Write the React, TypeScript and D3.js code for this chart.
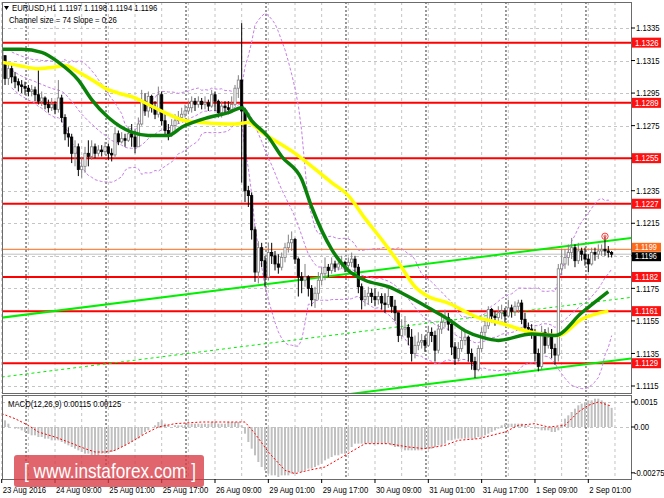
import React, { useEffect } from "react";
import * as d3 from "d3";

// EURUSD H1, 23 Aug 2016 17:00 .. 2 Sep 2016 (one value per bar)
const firstOpen = 1.1322;
const closes = [
  1.1318, 1.1304, 1.1310, 1.1305, 1.1302, 1.1300, 1.1299, 1.1298, 1.1296, 1.1297,
  1.1294, 1.1290, 1.1292, 1.1288, 1.1286, 1.1288, 1.1285, 1.1292, 1.1280, 1.1270,
  1.1268, 1.1258, 1.1262, 1.1248, 1.1250, 1.1258, 1.1256, 1.1262, 1.1258, 1.1260,
  1.1259, 1.1262, 1.1258, 1.1257, 1.1270, 1.1265, 1.1267, 1.1266, 1.1270, 1.1268,
  1.1262, 1.1276, 1.1290, 1.1284, 1.1293, 1.1286, 1.1282, 1.1294, 1.1278, 1.1272,
  1.1270, 1.1275, 1.1278, 1.1280, 1.1282, 1.1284, 1.1286, 1.1290, 1.1288, 1.1290,
  1.1288, 1.1289, 1.1287, 1.1294, 1.1290, 1.1283, 1.1287, 1.1286, 1.1285, 1.1288,
  1.1298, 1.1303, 1.1284, 1.1235, 1.1232, 1.1211, 1.1185, 1.1200, 1.1192, 1.1182,
  1.1197, 1.1195, 1.1190, 1.1188, 1.1194, 1.1200, 1.1203, 1.1205, 1.1193, 1.1182,
  1.1180, 1.1182, 1.1175, 1.1168, 1.1172, 1.1180, 1.1184, 1.1188, 1.1186, 1.1190,
  1.1188, 1.1190, 1.1191, 1.1189, 1.1191, 1.1193, 1.1188, 1.1176, 1.1168, 1.1170,
  1.1172, 1.1170, 1.1168, 1.1170, 1.1166, 1.1165, 1.1170, 1.1164, 1.1160, 1.1146,
  1.1150, 1.1151, 1.1145, 1.1135, 1.1140, 1.1142, 1.1143, 1.1140, 1.1148, 1.1146,
  1.1137, 1.1150, 1.1154, 1.1157, 1.1153, 1.1139, 1.1132, 1.1138, 1.1143, 1.1145,
  1.1135, 1.1130, 1.1125, 1.1138, 1.1148, 1.1152, 1.1162, 1.1158, 1.1157, 1.1160,
  1.1161, 1.1158, 1.1163, 1.1161, 1.1164, 1.1166, 1.1156, 1.1151, 1.1150, 1.1148,
  1.1135, 1.1127, 1.1148, 1.1140, 1.1145, 1.1138, 1.1134, 1.1187, 1.1190, 1.1194,
  1.1197, 1.1200, 1.1192, 1.1198, 1.1196, 1.1193, 1.1190, 1.1197, 1.1196, 1.1198,
  1.1199, 1.1198, 1.1197, 1.1196,
];
const highs = [
  1.1333, 1.1318, 1.1314, 1.1313, 1.1308, 1.1304, 1.1303, 1.1302, 1.1300, 1.1300,
  1.1299, 1.1309, 1.1296, 1.1293, 1.1291, 1.1292, 1.1290, 1.1303, 1.1294, 1.1282,
  1.1274, 1.1270, 1.1266, 1.1264, 1.1256, 1.1262, 1.1266, 1.1266, 1.1264, 1.1263,
  1.1263, 1.1265, 1.1264, 1.1261, 1.1274, 1.1272, 1.1271, 1.1270, 1.1274, 1.1276,
  1.1272, 1.1280, 1.1297, 1.1295, 1.1296, 1.1294, 1.1290, 1.1299, 1.1296, 1.1282,
  1.1276, 1.1279, 1.1282, 1.1284, 1.1286, 1.1288, 1.1290, 1.1293, 1.1292, 1.1293,
  1.1292, 1.1293, 1.1291, 1.1297, 1.1296, 1.1291, 1.1290, 1.1290, 1.1290, 1.1293,
  1.1300, 1.1306, 1.1338, 1.1286, 1.1238, 1.1234, 1.1213, 1.1204, 1.1203, 1.1195,
  1.1203, 1.1203, 1.1198, 1.1196, 1.1197, 1.1203, 1.1208, 1.1210, 1.1206, 1.1194,
  1.1185, 1.1190, 1.1183, 1.1177, 1.1176, 1.1185, 1.1188, 1.1194, 1.1190, 1.1194,
  1.1192, 1.1193, 1.1195, 1.1192, 1.1194, 1.1197, 1.1195, 1.1190, 1.1178, 1.1174,
  1.1176, 1.1175, 1.1175, 1.1173, 1.1172, 1.1172, 1.1176, 1.1170, 1.1168, 1.1160,
  1.1156, 1.1158, 1.1153, 1.1150, 1.1146, 1.1148, 1.1147, 1.1146, 1.1152, 1.1151,
  1.1149, 1.1153, 1.1160, 1.1162, 1.1160, 1.1156, 1.1142, 1.1142, 1.1150, 1.1149,
  1.1146, 1.1138, 1.1133, 1.1140, 1.1151, 1.1156, 1.1164, 1.1163, 1.1161, 1.1164,
  1.1165, 1.1163, 1.1168, 1.1165, 1.1167, 1.1168, 1.1168, 1.1160, 1.1154, 1.1153,
  1.1150, 1.1138, 1.1152, 1.1150, 1.1151, 1.1150, 1.1141, 1.1190, 1.1199, 1.1199,
  1.1202, 1.1206, 1.1202, 1.1203, 1.1200, 1.1200, 1.1196, 1.1200, 1.1200, 1.1202,
  1.1202, 1.1207, 1.1201, 1.1198,
];
const lows = [
  1.1314, 1.1300, 1.1300, 1.1301, 1.1298, 1.1296, 1.1295, 1.1294, 1.1293, 1.1293,
  1.1290, 1.1288, 1.1287, 1.1285, 1.1283, 1.1284, 1.1282, 1.1283, 1.1277, 1.1266,
  1.1262, 1.1252, 1.1250, 1.1244, 1.1243, 1.1246, 1.1250, 1.1254, 1.1255, 1.1256,
  1.1256, 1.1257, 1.1254, 1.1253, 1.1255, 1.1263, 1.1264, 1.1262, 1.1265, 1.1262,
  1.1258, 1.1262, 1.1275, 1.1281, 1.1280, 1.1283, 1.1279, 1.1280, 1.1275, 1.1268,
  1.1266, 1.1268, 1.1272, 1.1276, 1.1278, 1.1280, 1.1282, 1.1283, 1.1284, 1.1286,
  1.1285, 1.1285, 1.1284, 1.1286, 1.1284, 1.1280, 1.1280, 1.1282, 1.1282, 1.1283,
  1.1287, 1.1292, 1.1240, 1.1228, 1.1225, 1.1205, 1.1179, 1.1178, 1.1188, 1.1176,
  1.1180, 1.1190, 1.1186, 1.1184, 1.1186, 1.1191, 1.1197, 1.1198, 1.1190, 1.1170,
  1.1172, 1.1176, 1.1170, 1.1164, 1.1163, 1.1168, 1.1177, 1.1180, 1.1182, 1.1184,
  1.1185, 1.1186, 1.1187, 1.1185, 1.1187, 1.1188, 1.1185, 1.1172, 1.1162, 1.1164,
  1.1165, 1.1166, 1.1164, 1.1165, 1.1162, 1.1160, 1.1163, 1.1160, 1.1155, 1.1142,
  1.1144, 1.1146, 1.1140, 1.1130, 1.1132, 1.1137, 1.1138, 1.1136, 1.1139, 1.1142,
  1.1130, 1.1135, 1.1147, 1.1151, 1.1149, 1.1134, 1.1128, 1.1130, 1.1136, 1.1140,
  1.1130, 1.1125, 1.1120, 1.1124, 1.1136, 1.1145, 1.1150, 1.1154, 1.1152, 1.1155,
  1.1156, 1.1153, 1.1157, 1.1157, 1.1158, 1.1160, 1.1153, 1.1148, 1.1146, 1.1144,
  1.1130, 1.1124, 1.1125, 1.1135, 1.1138, 1.1132, 1.1128, 1.1130, 1.1183, 1.1187,
  1.1189, 1.1193, 1.1188, 1.1190, 1.1192, 1.1189, 1.1185, 1.1189, 1.1192, 1.1193,
  1.1195, 1.1195, 1.1194, 1.1194,
];

// moving averages, read at selected bars
const greenMaBars = [0, 6, 12, 17, 23, 27, 32, 39, 44, 50, 54, 62, 68, 72, 75, 80, 84, 90, 93, 99, 104, 109, 116, 122, 129, 134, 139, 144, 149, 159, 166, 174, 182];
const greenMaValues = [1.1322, 1.1322, 1.1320, 1.1314, 1.1303, 1.1291, 1.1280, 1.1271, 1.1269, 1.1269, 1.1274, 1.1280, 1.1283, 1.1286, 1.1278, 1.1268, 1.1256, 1.1242, 1.1225, 1.1199, 1.1186, 1.1180, 1.1176, 1.1170, 1.1162, 1.1156, 1.1149, 1.1145, 1.1143, 1.1147, 1.1146, 1.1160, 1.1173];
const yellowMaBars = [0, 5, 11, 16, 19, 23, 28, 31, 35, 40, 44, 49, 55, 60, 70, 74, 78, 88, 99, 104, 109, 114, 119, 124, 128, 134, 143, 149, 159, 167, 174, 182];
const yellowMaValues = [1.1314, 1.1312, 1.1310, 1.1311, 1.1312, 1.1308, 1.1302, 1.1298, 1.1295, 1.1292, 1.1288, 1.1283, 1.1278, 1.1277, 1.1276, 1.1277, 1.1271, 1.1258, 1.1240, 1.1232, 1.1218, 1.1205, 1.1191, 1.1176, 1.1170, 1.1166, 1.1157, 1.1154, 1.1148, 1.1146, 1.1156, 1.1161];

// MACD(12,26,9) main value per bar, in units of 0.0001
const macdMain = [
  5, 4, 2, 0, -1, -1, -2, -3, -4, -5,
  -5, -6, -6, -7, -7, -8, -8, -8, -9, -10,
  -11, -12, -13, -14, -15, -16, -16, -17, -17, -17,
  -16, -16, -16, -15, -14, -13, -12, -11, -10, -9,
  -8, -7, -5, -3, -2, 0, 1, 3, 4, 2,
  1, 0, 1, 1, 1, 1, 2, 2, 2, 2,
  2, 2, 2, 3, 3, 2, 2, 2, 3, 3,
  3, 3, 1, -4, -9, -13, -17, -21, -24, -26,
  -28, -29, -29, -30, -29, -29, -29, -28, -28, -27,
  -27, -26, -25, -25, -24, -23, -22, -20, -19, -18,
  -17, -17, -16, -16, -14, -12, -10, -10, -10, -10,
  -10, -10, -10, -10, -10, -10, -10, -11, -12, -12,
  -13, -14, -14, -14, -14, -14, -14, -13, -13, -13,
  -12, -11, -11, -10, -8, -8, -7, -7, -7, -7,
  -7, -7, -7, -6, -6, -5, -4, -3, -2, -1,
  1, 2, 2, 2, 2, 2, 2, 1, 1, 0,
  -1, -1, -2, -2, -2, -3, -3, -2, 2, 5,
  7, 9, 11, 13, 14, 15, 16, 16, 17, 17,
  16, 15, 13, 11.5,
];
const signalBars = [0, 4, 8, 11, 16, 20, 25, 28, 31, 34, 38, 43, 47, 52, 60, 67, 73, 76, 80, 85, 88, 92, 97, 103, 109, 116, 122, 127, 133, 137, 143, 151, 155, 160, 164, 169, 173, 176, 179, 183];
const signalValues = [8, 5, 1, -3, -6, -9, -13, -15, -15, -14, -10, -4, 0, 2, 3, 3, 3, -4, -15, -26, -28, -26, -24, -17, -10, -10, -12, -13, -11, -8, -7, -3, 1, 2, 0, 1, 9, 13, 15, 12.5];

// horizontal levels and price channel
const levelPrices = [1.1326, 1.1289, 1.1255, 1.1227, 1.1182, 1.1161, 1.1129];
const orangeLevel = 1.1199;
const bidPrice = 1.1196;
const channelBars = [0, 189];
const channelUpper = [1.1157, 1.1206];
const channelMiddle = [1.11205, 1.11695];
const channelLower = [1.1083, 1.1132];

// axes
const priceTicks = [1.1335, 1.1315, 1.1295, 1.1275, 1.1255, 1.1235, 1.1215, 1.1195, 1.1175, 1.1155, 1.1135, 1.1115];
const macdTicks = [0.0015, 0, -0.00275];
const macdTickLabels = ["0.0015", "0.00", "-0.00275"];
const timeLabels = ["23 Aug 2016", "24 Aug 09:00", "25 Aug 01:00", "25 Aug 17:00", "26 Aug 09:00", "29 Aug 01:00", "29 Aug 17:00", "30 Aug 09:00", "31 Aug 01:00", "31 Aug 17:00", "1 Sep 09:00", "2 Sep 01:00"];
const timeLabelBars = [0, 16, 32, 48, 64, 80, 96, 112, 128, 144, 160, 176];
const daySeparatorBars = [7, 31, 55, 79, 103, 127, 151, 175];

const FONT = "'Liberation Sans', Arial, sans-serif";

function Txt({ x, y, text, size = 9, fill = "#000", sx = 0.86 }: { x: number; y: number; text: string; size?: number; fill?: string; sx?: number }) {
  return (
    <text transform={`translate(${x},${y}) scale(${sx},1)`} fontSize={size} fill={fill} fontFamily={FONT} dominantBaseline="central">
      {text}
    </text>
  );
}

export default function App() {
  useEffect(() => {
    document.body.style.margin = "0";
  }, []);

  const L = 2, R = 631, mainTop = 2, mainBot = 393, macdTop = 395, macdBot = 479;
  const x = d3.scaleLinear().domain([0, 1]).range([1.7, 1.7 + 3.333]);
  const y = d3.scaleLinear().domain([1.1115, 1.1335]).range([386, 28]);
  const ym = d3.scaleLinear().domain([0, 0.0015]).range([427, 402]);
  const f4 = d3.format(".4f");

  const n = closes.length;
  const opens = closes.map((_, i) => (i === 0 ? firstOpen : closes[i - 1]));

  // Bollinger bands (20, 2) on closes
  const bands = closes
    .map((_, i) => {
      const win = closes.slice(Math.max(0, i - 19), i + 1);
      const m = d3.mean(win) as number;
      const sd = Math.sqrt(d3.mean(win, (v) => (v - m) * (v - m)) as number);
      return { i, m, up: m + 2 * sd, lo: m - 2 * sd };
    })
    .filter((d) => d.i >= 3);
  const bandLine = (key: "m" | "up" | "lo") =>
    d3.line<{ i: number; m: number; up: number; lo: number }>().x((d) => x(d.i)).y((d) => y(d[key]))(bands) || "";

  const maLine = (bars: number[], vals: number[]) =>
    d3.line<number>().x((b) => x(b)).y((_, k) => y(vals[k])).curve(d3.curveMonotoneX)(bars) || "";

  const signalPath =
    d3.line<number>().x((b) => x(b)).y((_, k) => ym(signalValues[k] * 1e-4))(signalBars) || "";

  const chan = (vals: number[]) => d3.line<number>().x((b) => x(b)).y((_, k) => y(vals[k]))(channelBars) || "";

  const gridBars = d3.range(0, 190, 8);
  const last = n - 1;
  const orangeY = y(orangeLevel) - 2;
  const bidY = y(bidPrice) + 2.5;

  return (
    <svg width={664} height={498} style={{ position: "absolute", left: 0, top: 0, background: "#fff" }}>
      <defs>
        <clipPath id="mainClip">
          <rect x={L} y={mainTop} width={R - L} height={mainBot - mainTop} />
        </clipPath>
        <clipPath id="macdClip">
          <rect x={L} y={macdTop} width={R - L} height={macdBot - macdTop} />
        </clipPath>
      </defs>
      <rect x={0} y={0} width={664} height={498} fill="#fff" />

      {/* grid */}
      <g stroke="#c4c4c4" strokeDasharray="3,3" strokeWidth={1}>
        {gridBars.filter((b) => x(b) < R).map((b) => (
          <g key={b}>
            <line x1={x(b)} x2={x(b)} y1={mainTop} y2={mainBot} />
            <line x1={x(b)} x2={x(b)} y1={macdTop} y2={macdBot} />
          </g>
        ))}
        {priceTicks.map((p) => (
          <line key={p} x1={L} x2={R} y1={Math.round(y(p)) + 0.5} y2={Math.round(y(p)) + 0.5} />
        ))}
        {[0.0015, 0].map((v) => (
          <line key={v} x1={L} x2={R} y1={Math.round(ym(v)) + 0.5} y2={Math.round(ym(v)) + 0.5} />
        ))}
      </g>
      <g stroke="#333" strokeDasharray="2,2" strokeWidth={1}>
        {daySeparatorBars.map((b) => (
          <g key={b}>
            <line x1={x(b) + 1} x2={x(b) + 1} y1={mainTop} y2={mainBot} />
            <line x1={x(b) + 1} x2={x(b) + 1} y1={macdTop} y2={macdBot} />
          </g>
        ))}
      </g>

      {/* main panel */}
      <g clipPath="url(#mainClip)">
        <line x1={L} x2={R} y1={y(bidPrice)} y2={y(bidPrice)} stroke="#c0c0c0" strokeWidth={1} />
        <line x1={L} x2={R} y1={y(orangeLevel)} y2={y(orangeLevel)} stroke="#ff6a1a" strokeWidth={1} />
        {levelPrices.map((p) => (
          <line key={p} x1={L} x2={R} y1={y(p)} y2={y(p)} stroke="#ff0000" strokeWidth={2} />
        ))}
        <g fill="none" stroke="#c77ee8" strokeWidth={1} strokeDasharray="3,2">
          <path d={bandLine("up")} />
          <path d={bandLine("m")} />
          <path d={bandLine("lo")} />
        </g>
        <path d={chan(channelUpper)} stroke="#00f000" strokeWidth={2} fill="none" />
        <path d={chan(channelLower)} stroke="#00f000" strokeWidth={2} fill="none" />
        <path d={chan(channelMiddle)} stroke="#00f000" strokeWidth={1} strokeDasharray="3,3" fill="none" />

        {closes.map((c, i) => {
          const o = opens[i];
          const bull = c >= o;
          const cx = x(i);
          const top = y(Math.max(o, c));
          const h = Math.max(1, y(Math.min(o, c)) - top);
          return (
            <g key={i}>
              <line x1={cx} x2={cx} y1={y(highs[i])} y2={y(lows[i])} stroke={bull ? "#808080" : "#000"} strokeWidth={1} />
              <rect
                x={cx - 1.1}
                y={top}
                width={2.2}
                height={h}
                fill={bull ? "#fff" : "#000"}
                stroke={bull ? "#808080" : "#000"}
                strokeWidth={0.8}
              />
            </g>
          );
        })}

        <path d={maLine(yellowMaBars, yellowMaValues)} stroke="#ffff00" strokeWidth={3.5} fill="none" strokeLinejoin="round" />
        <path d={maLine(greenMaBars, greenMaValues)} stroke="#0a820a" strokeWidth={3.5} fill="none" strokeLinejoin="round" />

        <circle cx={x(181)} cy={y(highs[181])} r={3.2} fill="none" stroke="#ff3b3b" strokeWidth={1} />
        <circle cx={x(181)} cy={y(highs[181])} r={1.2} fill="none" stroke="#ff3b3b" strokeWidth={0.8} />
      </g>

      {/* MACD panel */}
      <g clipPath="url(#macdClip)">
        {macdMain.map((v, i) => {
          const y0 = ym(0);
          const y1 = ym(v * 1e-4);
          return <rect key={i} x={x(i) - 1} y={Math.min(y0, y1)} width={2} height={Math.abs(y1 - y0)} fill="#c0c0c0" />;
        })}
        <path d={signalPath} fill="none" stroke="#ff0000" strokeWidth={1} strokeDasharray="2,2" />
      </g>

      {/* frames */}
      <rect x={L + 0.5} y={mainTop + 0.5} width={R - L} height={mainBot - mainTop} fill="none" stroke="#6b6b6b" />
      <rect x={L + 0.5} y={macdTop + 0.5} width={R - L} height={macdBot - macdTop} fill="none" stroke="#6b6b6b" />

      {/* header texts */}
      <path d="M4,6 L9,6 L6.5,10 Z" fill="#000" />
      <Txt x={12} y={8} text={`EURUSD,H1  ${f4(opens[last])} ${f4(highs[last])} ${f4(lows[last])} ${f4(closes[last])}`} />
      <Txt x={9} y={20} text="Channel size = 74 Slope = 0.26" />
      <Txt x={8} y={404} text="MACD(12,26,9) 0.00115 0.00125" />

      {/* price axis */}
      {priceTicks.map((p) => (
        <g key={p}>
          <line x1={R} x2={R + 4} y1={y(p)} y2={y(p)} stroke="#000" />
          {Math.abs(p - bidPrice) > 0.0004 && <Txt x={636} y={y(p)} text={f4(p)} />}
        </g>
      ))}
      {levelPrices.map((p) => (
        <g key={p}>
          <rect x={632} y={y(p) - 5} width={29} height={10} fill="#ff1010" />
          <Txt x={635} y={y(p)} text={f4(p)} fill="#fff" />
        </g>
      ))}
      <rect x={632} y={orangeY - 4.5} width={29} height={9} fill="#ff6a1a" />
      <Txt x={635} y={orangeY} text={f4(orangeLevel)} fill="#fff" size={8.5} />
      <rect x={632} y={bidY - 4.5} width={29} height={9} fill="#000" />
      <Txt x={635} y={bidY} text={f4(bidPrice)} fill="#fff" size={8.5} />

      {/* macd axis */}
      {macdTicks.map((v, k) => (
        <g key={v}>
          <line x1={R} x2={R + 4} y1={ym(v)} y2={ym(v)} stroke="#000" />
          <Txt x={634} y={ym(v)} text={macdTickLabels[k]} />
        </g>
      ))}

      {/* time axis */}
      {timeLabelBars.map((b, k) => (
        <g key={b}>
          <line x1={x(b)} x2={x(b)} y1={macdBot} y2={macdBot + 4} stroke="#000" />
          <Txt x={x(b) + 1} y={490} text={timeLabels[k]} />
        </g>
      ))}

      {/* watermark */}
      <rect x={14} y={455} width={190} height={32} rx={3} fill="#d93a42" opacity={0.78} />
      <Txt x={24} y={471} text="[  www.instaforex.com  ]" size={20} fill="#fff" sx={0.86} />
    </svg>
  );
}
